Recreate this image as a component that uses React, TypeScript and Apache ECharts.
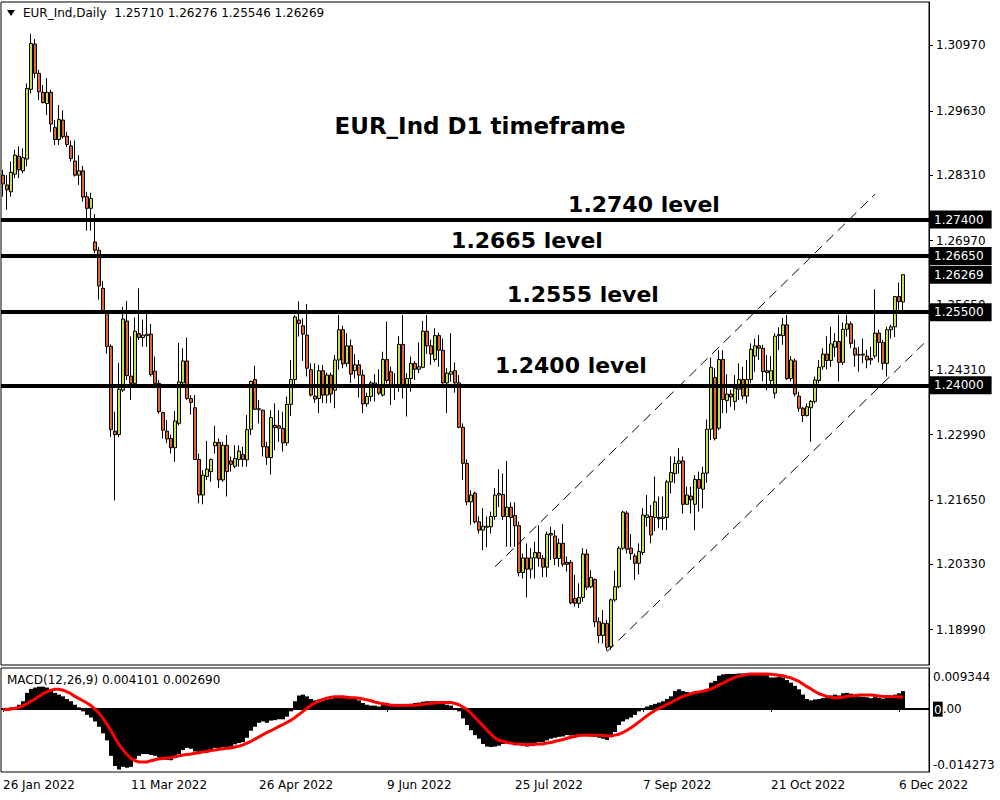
import React, { useEffect, useRef } from 'react';
import * as echarts from 'echarts';

// ---- Daily candles (26 Jan 2022 .. 7 Dec 2022), one value per trading day ----
const OPEN = [
  1.2831,1.2811,1.2797,1.2833,1.2870,1.2840,1.2864,1.3007,1.3100,1.3040,
  1.3001,1.2978,1.3001,1.2929,1.2904,1.2944,1.2911,1.2891,1.2860,1.2831,
  1.2840,1.2787,1.2763,1.2694,1.2677,1.2599,1.2547,1.2480,1.2306,1.2299,
  1.2390,1.2532,1.2419,1.2404,1.2506,1.2498,1.2502,1.2505,1.2429,1.2404,
  1.2344,1.2306,1.2291,1.2272,1.2322,1.2405,1.2450,1.2373,1.2354,1.2248,
  1.2175,1.2213,1.2223,1.2276,1.2283,1.2206,1.2277,1.2245,1.2234,1.2248,
  1.2258,1.2247,1.2310,1.2412,1.2350,1.2349,1.2274,1.2252,1.2318,1.2317,
  1.2312,1.2282,1.2361,1.2412,1.2534,1.2522,1.2503,1.2432,1.2378,1.2373,
  1.2430,1.2380,1.2421,1.2390,1.2452,1.2514,1.2445,1.2481,1.2430,1.2442,
  1.2421,1.2362,1.2377,1.2402,1.2397,1.2380,1.2453,1.2428,1.2401,1.2401,
  1.2484,1.2401,1.2414,1.2445,1.2433,1.2437,1.2511,1.2481,1.2453,1.2502,
  1.2472,1.2405,1.2423,1.2430,1.2405,1.2314,1.2240,1.2161,1.2179,1.2120,
  1.2103,1.2111,1.2110,1.2131,1.2175,1.2176,1.2131,1.2150,1.2133,1.2112,
  1.2016,1.2046,1.2023,1.2046,1.2057,1.2045,1.2027,1.2096,1.2091,1.2045,
  1.2076,1.2037,1.2037,1.1963,1.1953,1.1965,1.2054,1.1987,1.2002,1.1915,
  1.1887,1.1912,1.1864,1.1960,1.1987,1.2066,1.2138,1.2066,1.2050,1.2035,
  1.2057,1.2129,1.2131,1.2129,1.2129,1.2127,1.2129,1.2202,1.2219,1.2240,
  1.2245,1.2156,1.2173,1.2156,1.2207,1.2187,1.2220,1.2310,1.2416,1.2312,
  1.2453,1.2369,1.2382,1.2367,1.2392,1.2412,1.2378,1.2412,1.2460,1.2481,
  1.2476,1.2430,1.2410,1.2384,1.2502,1.2502,1.2524,1.2414,1.2450,1.2378,
  1.2353,1.2338,1.2354,1.2367,1.2410,1.2438,1.2464,1.2451,1.2478,1.2490,
  1.2447,1.2515,1.2526,1.2476,1.2463,1.2462,1.2460,1.2455,1.2460,1.2507,
  1.2488,1.2445,1.2514,1.2520,1.2582,1.2571,
];
const HIGH = [
  1.2842,1.2831,1.2859,1.2883,1.2890,1.2886,1.3019,1.3121,1.3110,1.3047,
  1.3016,1.3030,1.3006,1.2944,1.2975,1.2964,1.2920,1.2902,1.2902,1.2872,
  1.2850,1.2797,1.2795,1.2751,1.2684,1.2614,1.2551,1.2484,1.2346,1.2446,
  1.2561,1.2573,1.2500,1.2539,1.2599,1.2535,1.2547,1.2526,1.2459,1.2411,
  1.2346,1.2329,1.2299,1.2347,1.2487,1.2476,1.2498,1.2380,1.2380,1.2260,
  1.2226,1.2286,1.2250,1.2317,1.2291,1.2284,1.2298,1.2254,1.2277,1.2277,
  1.2274,1.2339,1.2410,1.2440,1.2370,1.2350,1.2284,1.2349,1.2363,1.2349,
  1.2346,1.2377,1.2452,1.2544,1.2572,1.2537,1.2567,1.2445,1.2445,1.2442,
  1.2442,1.2426,1.2426,1.2462,1.2544,1.2522,1.2507,1.2494,1.2464,1.2452,
  1.2432,1.2385,1.2409,1.2423,1.2433,1.2469,1.2531,1.2438,1.2425,1.2501,
  1.2544,1.2425,1.2459,1.2450,1.2488,1.2532,1.2544,1.2494,1.2517,1.2508,
  1.2496,1.2435,1.2507,1.2447,1.2421,1.2322,1.2248,1.2185,1.2182,1.2131,
  1.2148,1.2131,1.2141,1.2189,1.2228,1.2219,1.2245,1.2160,1.2160,1.2120,
  1.2055,1.2076,1.2066,1.2079,1.2113,1.2052,1.2100,1.2110,1.2103,1.2086,
  1.2116,1.2049,1.2042,1.2011,1.1994,1.2066,1.2064,1.2021,1.2004,1.1924,
  1.1939,1.1919,1.1963,1.2020,1.2070,1.2143,1.2142,1.2095,1.2055,1.2076,
  1.2148,1.2175,1.2155,1.2213,1.2172,1.2172,1.2206,1.2254,1.2254,1.2271,
  1.2254,1.2192,1.2192,1.2216,1.2223,1.2233,1.2330,1.2457,1.2435,1.2472,
  1.2472,1.2423,1.2391,1.2421,1.2445,1.2438,1.2452,1.2486,1.2496,1.2503,
  1.2483,1.2462,1.2460,1.2507,1.2519,1.2538,1.2544,1.2460,1.2455,1.2387,
  1.2356,1.2363,1.2370,1.2418,1.2452,1.2476,1.2501,1.2520,1.2507,1.2544,
  1.2529,1.2544,1.2531,1.2494,1.2479,1.2496,1.2473,1.2479,1.2597,1.2514,
  1.2493,1.2520,1.2524,1.2582,1.2611,1.26276,
];
const LOW = [
  1.2787,1.2760,1.2787,1.2825,1.2825,1.2835,1.2849,1.2999,1.3030,1.2985,
  1.2978,1.2954,1.2920,1.2893,1.2893,1.2906,1.2889,1.2859,1.2828,1.2811,
  1.2777,1.2717,1.2717,1.2671,1.2576,1.2547,1.2465,1.2294,1.2164,1.2294,
  1.2386,1.2411,1.2370,1.2400,1.2493,1.2479,1.2479,1.2418,1.2394,1.2342,
  1.2291,1.2281,1.2260,1.2243,1.2318,1.2397,1.2370,1.2340,1.2247,1.2158,
  1.2156,1.2206,1.2202,1.2260,1.2189,1.2202,1.2172,1.2223,1.2230,1.2233,
  1.2233,1.2233,1.2298,1.2349,1.2322,1.2254,1.2237,1.2217,1.2267,1.2284,
  1.2264,1.2276,1.2337,1.2394,1.2500,1.2450,1.2418,1.2377,1.2364,1.2343,
  1.2364,1.2363,1.2364,1.2353,1.2432,1.2435,1.2438,1.2405,1.2414,1.2375,
  1.2343,1.2356,1.2367,1.2367,1.2380,1.2377,1.2404,1.2360,1.2370,1.2387,
  1.2373,1.2336,1.2387,1.2411,1.2425,1.2435,1.2464,1.2442,1.2448,1.2438,
  1.2403,1.2343,1.2407,1.2385,1.2312,1.2206,1.2154,1.2114,1.2117,1.2096,
  1.2062,1.2068,1.2096,1.2124,1.2150,1.2124,1.2069,1.2069,1.2069,1.2008,
  1.2004,1.1965,1.2004,1.2004,1.2028,1.2007,1.2007,1.2042,1.2031,1.2028,
  1.2028,1.2018,1.1951,1.1946,1.1943,1.1956,1.1980,1.1984,1.1904,1.1871,
  1.1871,1.1856,1.1858,1.1956,1.1984,1.2062,1.2055,1.2042,1.2001,1.2012,
  1.2052,1.2110,1.2076,1.2101,1.2107,1.2103,1.2103,1.2178,1.2199,1.2219,
  1.2137,1.2155,1.2137,1.2103,1.2141,1.2148,1.2200,1.2288,1.2287,1.2308,
  1.2343,1.2343,1.2356,1.2349,1.2370,1.2371,1.2363,1.2404,1.2428,1.2452,
  1.2408,1.2390,1.2395,1.2373,1.2472,1.2483,1.2411,1.2408,1.2377,1.2346,
  1.2325,1.2336,1.2284,1.2363,1.2404,1.2432,1.2433,1.2438,1.2458,1.2408,
  1.2442,1.2500,1.2476,1.2438,1.2428,1.2445,1.2435,1.2442,1.2455,1.2447,
  1.2432,1.2418,1.2496,1.2499,1.2555,1.25546,
];
const CLOSE = [
  1.2813,1.2801,1.2837,1.2872,1.2842,1.2867,1.3009,1.3101,1.3040,1.3002,
  1.2980,1.3001,1.2936,1.2904,1.2945,1.2910,1.2894,1.2865,1.2831,1.2840,
  1.2786,1.2763,1.2783,1.2677,1.2604,1.2551,1.2480,1.2309,1.2299,1.2392,
  1.2536,1.2420,1.2404,1.2511,1.2498,1.2503,1.2505,1.2422,1.2404,1.2346,
  1.2308,1.2290,1.2272,1.2327,1.2407,1.2450,1.2373,1.2365,1.2248,1.2175,
  1.2216,1.2228,1.2248,1.2283,1.2206,1.2277,1.2223,1.2238,1.2250,1.2265,
  1.2248,1.2309,1.2408,1.2351,1.2352,1.2274,1.2252,1.2334,1.2313,1.2312,
  1.2282,1.2361,1.2412,1.2540,1.2527,1.2505,1.2435,1.2380,1.2372,1.2430,
  1.2380,1.2421,1.2382,1.2452,1.2514,1.2444,1.2481,1.2423,1.2442,1.2421,
  1.2362,1.2377,1.2405,1.2405,1.2384,1.2453,1.2410,1.2397,1.2400,1.2484,
  1.2401,1.2414,1.2445,1.2433,1.2438,1.2511,1.2481,1.2464,1.2502,1.2472,
  1.2405,1.2425,1.2428,1.2405,1.2314,1.2240,1.2161,1.2175,1.2120,1.2103,
  1.2111,1.2109,1.2131,1.2175,1.2178,1.2131,1.2150,1.2129,1.2112,1.2016,
  1.2046,1.2023,1.2046,1.2057,1.2045,1.2027,1.2095,1.2093,1.2045,1.2076,
  1.2033,1.2033,1.1954,1.1953,1.1965,1.2054,1.1986,1.2006,1.1915,1.1887,
  1.1912,1.1863,1.1960,1.1987,1.2066,1.2140,1.2064,1.2055,1.2035,1.2059,
  1.2134,1.2134,1.2093,1.2161,1.2126,1.2130,1.2202,1.2221,1.2240,1.2245,
  1.2156,1.2175,1.2165,1.2207,1.2189,1.2220,1.2310,1.2437,1.2291,1.2453,
  1.2371,1.2382,1.2376,1.2394,1.2412,1.2378,1.2412,1.2474,1.2481,1.2476,
  1.2428,1.2426,1.2430,1.2501,1.2504,1.2524,1.2414,1.2452,1.2382,1.2353,
  1.2338,1.2356,1.2367,1.2411,1.2437,1.2464,1.2451,1.2485,1.2490,1.2447,
  1.2515,1.2526,1.2486,1.2462,1.2462,1.2464,1.2452,1.2452,1.2507,1.2488,
  1.2445,1.2514,1.2520,1.2582,1.2572,1.26269,
];

// ---- MACD(12,26,9): main (histogram) and signal line ----
const MACD_MAIN = [
  0.0002,0.0003,0.0004,0.0004,0.0010,0.0018,0.0037,0.0046,0.0049,0.0051,
  0.0051,0.0049,0.0045,0.0037,0.0033,0.0029,0.0023,0.0018,0.0010,0.0004,
  -0.0005,-0.0013,-0.0019,-0.0028,-0.0040,-0.0055,-0.0071,-0.0106,-0.0129,-0.0137,
  -0.0131,-0.0133,-0.0131,-0.0113,-0.0106,-0.0102,-0.0102,-0.0104,-0.0106,-0.0110,
  -0.0113,-0.0115,-0.0116,-0.0110,-0.0102,-0.0093,-0.0088,-0.0090,-0.0096,-0.0100,
  -0.0098,-0.0094,-0.0093,-0.0088,-0.0090,-0.0086,-0.0088,-0.0085,-0.0080,-0.0077,
  -0.0075,-0.0065,-0.0049,-0.0040,-0.0031,-0.0028,-0.0031,-0.0026,-0.0025,-0.0023,
  -0.0023,-0.0017,-0.0005,0.0018,0.0031,0.0033,0.0029,0.0023,0.0020,0.0022,
  0.0020,0.0022,0.0023,0.0026,0.0028,0.0026,0.0026,0.0023,0.0023,0.0020,
  0.0014,0.0010,0.0008,0.0008,0.0006,0.0010,0.0012,0.0010,0.0010,0.0012,
  0.0012,0.0010,0.0012,0.0014,0.0015,0.0017,0.0018,0.0018,0.0018,0.0017,
  0.0014,0.0010,0.0008,0.0002,-0.0005,-0.0021,-0.0036,-0.0048,-0.0059,-0.0067,
  -0.0079,-0.0085,-0.0086,-0.0085,-0.0083,-0.0079,-0.0077,-0.0077,-0.0079,-0.0080,
  -0.0083,-0.0085,-0.0084,-0.0079,-0.0075,-0.0075,-0.0071,-0.0067,-0.0065,-0.0063,
  -0.0062,-0.0059,-0.0060,-0.0059,-0.0057,-0.0057,-0.0059,-0.0062,-0.0063,-0.0065,
  -0.0067,-0.0070,-0.0059,-0.0052,-0.0036,-0.0028,-0.0023,-0.0019,-0.0013,-0.0005,
  0.0000,0.0006,0.0009,0.0012,0.0015,0.0018,0.0023,0.0029,0.0041,0.0045,
  0.0041,0.0039,0.0037,0.0039,0.0041,0.0042,0.0046,0.0060,0.0064,0.0076,
  0.0079,0.0080,0.0080,0.0080,0.0081,0.0081,0.0081,0.0082,0.0081,0.0080,
  0.0079,0.0077,0.0072,0.0072,0.0074,0.0072,0.0066,0.0060,0.0053,0.0045,
  0.0033,0.0023,0.0020,0.0022,0.0023,0.0025,0.0028,0.0031,0.0033,0.0031,
  0.0036,0.0037,0.0035,0.0032,0.0029,0.0028,0.0027,0.0025,0.0028,0.0026,
  0.0024,0.0028,0.0031,0.0033,0.0036,0.004101,
];
const MACD_SIGNAL = [
  -0.0001,-0.0001,0.0000,0.0002,0.0004,0.0008,0.0012,0.0018,0.0023,0.0029,
  0.0035,0.0039,0.0043,0.0045,0.0045,0.0043,0.0039,0.0035,0.0029,0.0024,
  0.0019,0.0014,0.0008,0.0000,-0.0009,-0.0021,-0.0034,-0.0049,-0.0065,-0.0080,
  -0.0093,-0.0103,-0.0112,-0.0117,-0.0120,-0.0120,-0.0120,-0.0117,-0.0115,-0.0113,
  -0.0112,-0.0111,-0.0110,-0.0108,-0.0106,-0.0104,-0.0103,-0.0102,-0.0100,-0.0099,
  -0.0097,-0.0096,-0.0094,-0.0093,-0.0091,-0.0090,-0.0089,-0.0088,-0.0086,-0.0084,
  -0.0081,-0.0077,-0.0073,-0.0068,-0.0063,-0.0058,-0.0053,-0.0049,-0.0044,-0.0039,
  -0.0035,-0.0030,-0.0025,-0.0019,-0.0012,-0.0005,0.0002,0.0009,0.0014,0.0018,
  0.0022,0.0025,0.0027,0.0028,0.0028,0.0028,0.0027,0.0026,0.0026,0.0025,
  0.0023,0.0021,0.0019,0.0016,0.0014,0.0012,0.0011,0.0009,0.0009,0.0008,
  0.0008,0.0009,0.0009,0.0009,0.0010,0.0011,0.0012,0.0013,0.0014,0.0015,
  0.0015,0.0015,0.0015,0.0013,0.0010,0.0005,-0.0001,-0.0009,-0.0019,-0.0028,
  -0.0038,-0.0048,-0.0057,-0.0065,-0.0071,-0.0073,-0.0076,-0.0077,-0.0079,-0.0079,
  -0.0080,-0.0080,-0.0080,-0.0080,-0.0079,-0.0079,-0.0077,-0.0076,-0.0073,-0.0071,
  -0.0069,-0.0066,-0.0064,-0.0062,-0.0060,-0.0059,-0.0059,-0.0059,-0.0059,-0.0059,
  -0.0060,-0.0061,-0.0061,-0.0059,-0.0057,-0.0053,-0.0048,-0.0042,-0.0036,-0.0029,
  -0.0022,-0.0015,-0.0009,-0.0003,0.0002,0.0006,0.0011,0.0015,0.0020,0.0025,
  0.0029,0.0032,0.0035,0.0038,0.0039,0.0041,0.0043,0.0046,0.0050,0.0055,
  0.0059,0.0064,0.0068,0.0072,0.0075,0.0077,0.0079,0.0080,0.0080,0.0080,
  0.0080,0.0080,0.0079,0.0078,0.0077,0.0076,0.0073,0.0071,0.0067,0.0063,
  0.0057,0.0051,0.0046,0.0040,0.0035,0.0032,0.0029,0.0027,0.0026,0.0026,
  0.0027,0.0029,0.0030,0.0031,0.0032,0.0032,0.0032,0.0032,0.0031,0.0030,
  0.0029,0.0029,0.0028,0.0028,0.0028,0.00269,
];

// ---- axes / annotations ----
const TICK_LABELS = ['26 Jan 2022', '11 Mar 2022', '26 Apr 2022', '9 Jun 2022', '25 Jul 2022', '7 Sep 2022', '21 Oct 2022', '6 Dec 2022'];
const TICK_STEP = 32; // trading days between date labels
const EMPTY_SLOTS = 6; // empty bars to the right of the last candle
const PRICE_TICKS = [1.3097, 1.2963, 1.2831, 1.2697, 1.2565, 1.2431, 1.2299, 1.2165, 1.2033, 1.1899];
const PRICE_MIN = 1.18264;
const PRICE_MAX = 1.31862;
const MACD_TICKS = [0.009344, 0, -0.014273];
const LEVELS = [1.274, 1.2665, 1.255, 1.24];
const LAST_PRICE = 1.26269;
const LAST_OHLC = [1.2571, 1.26276, 1.25546, 1.26269];
const SYMBOL = 'EUR_Ind,Daily';
const MACD_NAME = 'MACD(12,26,9)';
const TITLE = 'EUR_Ind D1 timeframe';
const LEVEL_NOTES = ['1.2740 level', '1.2665 level', '1.2555 level', '1.2400 level'];
// channel lines: [bar index, price]
const CHANNEL_UPPER = [[123, 1.2028], [218, 1.2792]];
const CHANNEL_LOWER = [[151, 1.1854], [231, 1.2492]];

const FONT = '"DejaVu Sans", Verdana, sans-serif';
const BULL = '#c6df4c';
const BEAR = '#e0652f';
const NOTE_POS = [[644, 204], [527, 240], [583, 294], [571, 365]];

export default function App() {
  const ref = useRef<HTMLDivElement>(null);

  useEffect(() => {
    if (!ref.current) return;
    const chart = echarts.init(ref.current, null, { renderer: 'svg' });
    const n = OPEN.length + EMPTY_SLOTS;
    const cats = Array.from({ length: n }, (_, i) => String(i));
    const candles = OPEN.map((o, i) => [o, CLOSE[i], LOW[i], HIGH[i]]);
    const isTick = (i: number) => i % TICK_STEP === 0 && i / TICK_STEP < TICK_LABELS.length;
    const last = MACD_MAIN.length - 1;

    const boxLabel = {
      show: true,
      position: 'end',
      distance: 1,
      color: '#fff',
      backgroundColor: '#000',
      fontFamily: FONT,
      fontSize: 12,
      lineHeight: 14,
      padding: [2, 8, 2, 4],
    };
    const levelLines: any[] = LEVELS.map((v) => ({
      yAxis: v,
      lineStyle: { color: '#000', width: 4, type: 'solid', opacity: 1 },
      label: { ...boxLabel, formatter: v.toFixed(5) },
    }));
    levelLines.push({
      yAxis: LAST_PRICE,
      lineStyle: { color: 'rgba(0,0,0,0)', width: 1, type: 'solid', opacity: 1 },
      label: { ...boxLabel, formatter: LAST_PRICE.toFixed(5) },
    });
    const channel = (pts: number[][]) => [
      { coord: pts[0], lineStyle: { color: '#000', width: 1, type: [10, 6] }, label: { show: false } },
      { coord: pts[1] },
    ];

    const header = `${SYMBOL}  ${LAST_OHLC.map((v) => v.toFixed(5)).join(' ')}`;
    const macdHeader = `${MACD_NAME} ${MACD_MAIN[last].toFixed(6)} ${MACD_SIGNAL[last].toFixed(6)}`;

    const option: any = {
      animation: false,
      backgroundColor: '#fff',
      textStyle: { fontFamily: FONT },
      grid: [
        { left: 1, top: 2, width: 928, height: 663, show: true, borderColor: '#000', borderWidth: 1, backgroundColor: 'transparent' },
        { left: 1, top: 668, width: 928, height: 104, show: true, borderColor: '#000', borderWidth: 1, backgroundColor: 'transparent' },
      ],
      xAxis: [
        { type: 'category', gridIndex: 0, data: cats, show: false, boundaryGap: true },
        {
          type: 'category',
          gridIndex: 1,
          data: cats,
          boundaryGap: true,
          axisLine: { show: false },
          axisTick: { show: true, interval: (i: number) => isTick(i), alignWithLabel: true, length: 3, lineStyle: { color: '#000' } },
          axisLabel: {
            interval: (i: number) => isTick(i),
            formatter: (_v: string, i: number) => TICK_LABELS[i / TICK_STEP] || '',
            align: 'left',
            color: '#000',
            fontFamily: FONT,
            fontSize: 12,
            margin: 7,
          },
          splitLine: { show: false },
        },
      ],
      yAxis: [
        {
          type: 'value',
          gridIndex: 0,
          position: 'right',
          min: PRICE_MIN,
          max: PRICE_MAX,
          splitLine: { show: false },
          axisLine: { show: true, lineStyle: { color: '#000' } },
          axisTick: { show: true, customValues: PRICE_TICKS, length: 4, lineStyle: { color: '#000' } },
          axisLabel: {
            customValues: PRICE_TICKS,
            formatter: (v: number) => v.toFixed(5),
            color: '#000',
            fontFamily: FONT,
            fontSize: 12,
            margin: 7,
          },
        },
        {
          type: 'value',
          gridIndex: 1,
          position: 'right',
          min: MACD_TICKS[2],
          max: MACD_TICKS[0],
          splitLine: { show: false },
          axisLine: { show: true, lineStyle: { color: '#000' } },
          axisTick: { show: false },
          axisLabel: {
            customValues: MACD_TICKS,
            showMinLabel: true,
            showMaxLabel: true,
            color: '#000',
            fontFamily: FONT,
            fontSize: 12,
            margin: 4,
            formatter: (v: number) => {
              if (Math.abs(v) < 1e-9) return '{zero|0}{plain|.00}';
              if (v > 0) return '{top|' + v.toFixed(6) + '}';
              return '{bottom|' + v.toFixed(6) + '}';
            },
            rich: {
              top: { fontFamily: FONT, fontSize: 12, color: '#000', padding: [17, 0, 0, 0] },
              bottom: { fontFamily: FONT, fontSize: 12, color: '#000', padding: [0, 0, 15, 0] },
              zero: { fontFamily: FONT, fontSize: 12, color: '#fff', backgroundColor: '#000', padding: [2, 1, 1, 1] },
              plain: { fontFamily: FONT, fontSize: 12, color: '#000' },
            },
          },
        },
      ],
      series: [
        {
          type: 'candlestick',
          xAxisIndex: 0,
          yAxisIndex: 0,
          data: candles,
          barWidth: 3,
          itemStyle: { color: BULL, color0: BEAR, borderColor: '#000', borderColor0: '#000', borderWidth: 1 },
          markLine: {
            silent: true,
            precision: 6,
            symbol: ['none', 'none'],
            animation: false,
            data: [...levelLines, channel(CHANNEL_UPPER), channel(CHANNEL_LOWER)],
          },
        },
        {
          type: 'bar',
          xAxisIndex: 1,
          yAxisIndex: 1,
          data: MACD_MAIN,
          barCategoryGap: '0%',
          itemStyle: { color: '#000' },
          markLine: {
            silent: true,
            precision: 6,
            symbol: ['none', 'none'],
            label: { show: false },
            lineStyle: { color: '#000', width: 2, type: 'solid' },
            data: [{ yAxis: 0 }],
          },
        },
        {
          type: 'line',
          xAxisIndex: 1,
          yAxisIndex: 1,
          data: MACD_SIGNAL,
          showSymbol: false,
          symbol: 'none',
          lineStyle: { color: '#ff0000', width: 3 },
          itemStyle: { color: '#ff0000' },
          z: 5,
        },
      ],
      graphic: [
        { type: 'polygon', shape: { points: [[7, 10], [15, 10], [11, 16]] }, style: { fill: '#000' } },
        { type: 'text', x: 23, y: 13, style: { text: header, font: `12px ${FONT}`, fill: '#000', verticalAlign: 'middle' } },
        { type: 'text', x: 7, y: 680, style: { text: macdHeader, font: `12px ${FONT}`, fill: '#000', verticalAlign: 'middle' } },
        { type: 'text', x: 480, y: 126, style: { text: TITLE, font: `bold 23px ${FONT}`, fill: '#000', align: 'center', verticalAlign: 'middle' } },
        ...LEVEL_NOTES.map((t, i) => ({
          type: 'text',
          x: NOTE_POS[i][0],
          y: NOTE_POS[i][1],
          style: { text: t, font: `bold 22px ${FONT}`, fill: '#000', align: 'center', verticalAlign: 'middle' },
        })),
      ],
    };

    chart.setOption(option);
    return () => chart.dispose();
  }, []);

  return (
    <div
      ref={ref}
      style={{ position: 'absolute', left: 0, top: 0, width: 1000, height: 800, background: '#fff' }}
    />
  );
}
